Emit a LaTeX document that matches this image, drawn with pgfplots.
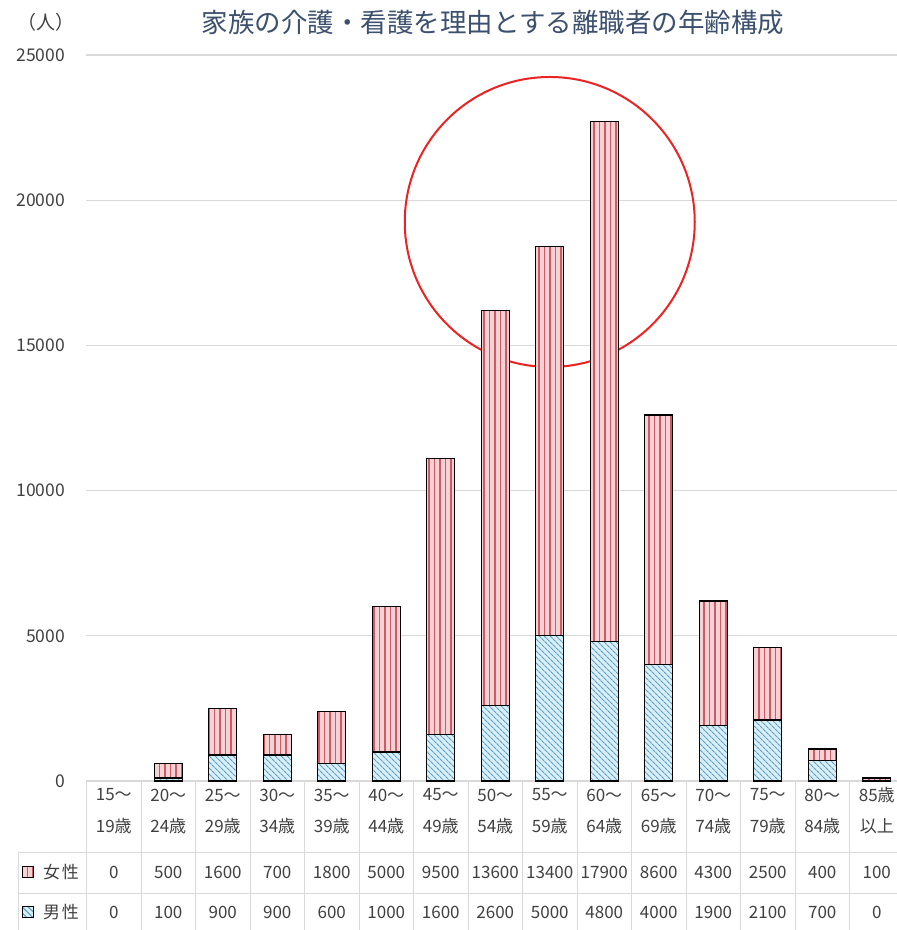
\documentclass[border=0pt]{standalone}
\usepackage{pgfplots}
\pgfplotsset{compat=1.18}
\usepackage{pgfplotstable}
\usetikzlibrary{patterns.meta}
\usepackage{fontspec}
\setmainfont{Noto Sans CJK JP}

\definecolor{gridgray}{RGB}{217,217,217}
\definecolor{titlecol}{RGB}{60,80,110}
\definecolor{txt}{RGB}{64,64,64}
\definecolor{fbase}{RGB}{246,210,212}
\definecolor{fline}{RGB}{205,90,100}
\definecolor{mbase}{RGB}{218,238,246}
\definecolor{mline}{RGB}{90,160,200}
\definecolor{circred}{RGB}{235,35,35}

\pgfplotstableread{
x male female
0 0 0
1 100 500
2 900 1600
3 900 700
4 600 1800
5 1000 5000
6 1600 9500
7 2600 13600
8 5000 13400
9 4800 17900
10 4000 8600
11 1900 4300
12 2100 2500
13 700 400
14 0 100
}\datatable

\tikzset{
 femalefill/.style={preaction={fill=fbase}, pattern={Lines[angle=90,distance=5.5pt,line width=1.5pt]}, pattern color=fline},
 malefill/.style={preaction={fill=mbase}, pattern={Lines[angle=-45,distance=4pt,line width=1.2pt]}, pattern color=mline},
}

\begin{document}
\begin{tikzpicture}
\begin{axis}[
 at={(86.5pt,-781pt)}, anchor=south west,
 scale only axis, width=817.5pt, height=726pt,
 xmin=-0.5, xmax=14.5, ymin=0, ymax=25000,
 ybar stacked, bar width=28pt,
 xtick=\empty,
 ytick={0,5000,10000,15000,20000,25000},
 scaled y ticks=false,
 /pgf/number format/assume math mode=true,
 /pgf/number format/1000 sep={},
 ymajorgrids, grid style={gridgray, line width=1.2pt},
 axis line style={draw=none},
 major tick length=0pt,
 yticklabel style={font=\fontsize{17.5}{19}\selectfont, text=txt, xshift=-18pt},
 clip=false,
]
\addplot[draw=black, line width=1.3pt, malefill, skip coords between index={0}{1}] table[x=x,y=male] {\datatable};
\addplot[draw=black, line width=1.3pt, femalefill, skip coords between index={0}{1}] table[x=x,y=female] {\datatable};
\draw[circred, line width=2pt] (axis cs:8,19250) circle[radius=145pt];
\end{axis}

% title
\node[text=titlecol, font=\fontsize{26.5}{28}\selectfont] at (493pt,-22pt) {家族の介護・看護を理由とする離職者の年齢構成};
\node[text=txt, font=\fontsize{19}{20}\selectfont] at (46pt,-22pt) {（人）};

% table grid
\draw[gridgray, line width=1pt] (18pt,-852pt) -- (904pt,-852pt);
\draw[gridgray, line width=1pt] (18pt,-893pt) -- (904pt,-893pt);
\draw[gridgray, line width=1pt] (18pt,-852pt) -- (18pt,-930pt);
\foreach \k in {0,...,15} {
  \draw[gridgray, line width=1pt] ({(86.5+54.5*\k)*1pt},-781pt) -- ++(0,-149pt);
}

% table text
\foreach \i/\a/\b/\f/\m in {0/15～/19歳/0/0, 1/20～/24歳/500/100, 2/25～/29歳/1600/900, 3/30～/34歳/700/900, 4/35～/39歳/1800/600, 5/40～/44歳/5000/1000, 6/45～/49歳/9500/1600, 7/50～/54歳/13600/2600, 8/55～/59歳/13400/5000, 9/60～/64歳/17900/4800, 10/65～/69歳/8600/4000, 11/70～/74歳/4300/1900, 12/75～/79歳/2500/2100, 13/80～/84歳/400/700, 14/85歳/以上/100/0} {
  \node[text=txt, font=\fontsize{17}{18}\selectfont] at ({(86.5+54.5*(\i+0.5))*1pt},-795pt) {\a};
  \node[text=txt, font=\fontsize{17}{18}\selectfont] at ({(86.5+54.5*(\i+0.5))*1pt},-826pt) {\b};
  \node[text=txt, font=\fontsize{17}{18}\selectfont] at ({(86.5+54.5*(\i+0.5))*1pt},-872pt) {\f};
  \node[text=txt, font=\fontsize{17}{18}\selectfont] at ({(86.5+54.5*(\i+0.5))*1pt},-912pt) {\m};
}

% legend keys
\draw[black, line width=1pt, femalefill] (22pt,-866pt) rectangle (33pt,-877pt);
\draw[black, line width=1pt, malefill] (22pt,-906pt) rectangle (33pt,-917pt);
\node[text=txt, font=\fontsize{17}{18}\selectfont] at (61pt,-872pt) {女\hspace{2pt}性};
\node[text=txt, font=\fontsize{17}{18}\selectfont] at (61pt,-912pt) {男\hspace{2pt}性};

\pgfresetboundingbox
\path[use as bounding box] (0,0) rectangle (897pt,-930pt);
\end{tikzpicture}
\end{document}
